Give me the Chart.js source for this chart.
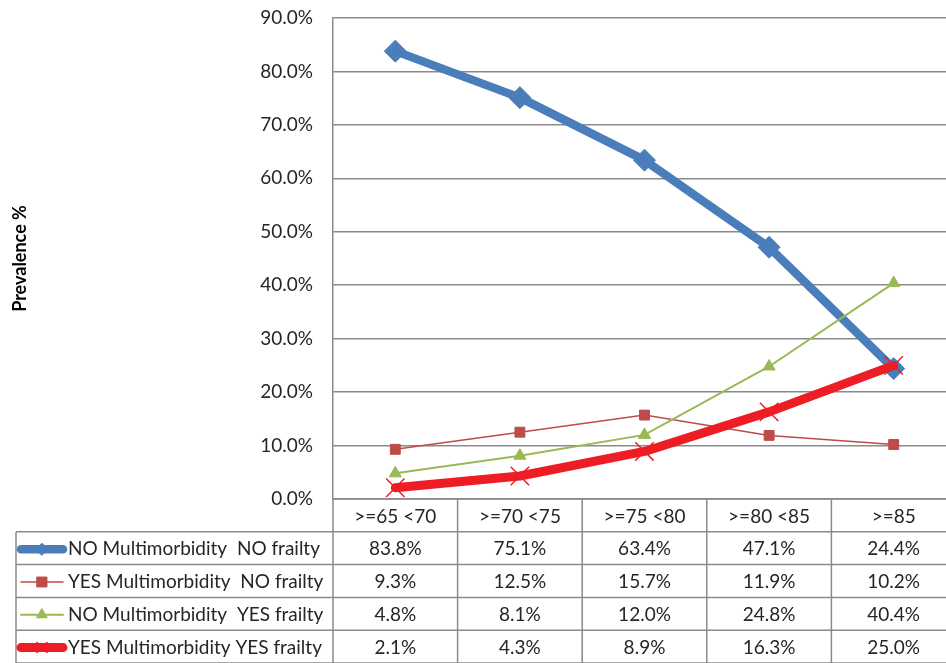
<!DOCTYPE html>
<html>
<head>
<meta charset="utf-8">
<script src="https://cdn.jsdelivr.net/npm/chart.js@4"></script>
<style>
  html, body { margin: 0; padding: 0; background: #fff; overflow: hidden; }
  #wrap { width: 956px; height: 663px; }
</style>
</head>
<body>
<div id="wrap"><canvas id="grafico" width="956" height="663"></canvas></div>
<script>
// categorias y series (en %)
const categorias = [">=65 <70", ">=70 <75", ">=75 <80", ">=80 <85", ">=85"];
const noMultiNoFrail = [83.8, 75.1, 63.4, 47.1, 24.4];
const yesMultiNoFrail = [9.3, 12.5, 15.7, 11.9, 10.2];
const noMultiYesFrail = [4.8, 8.1, 12.0, 24.8, 40.4];
const yesMultiYesFrail = [2.1, 4.3, 8.9, 16.3, 25.0];
const nombres = [
  "NO Multimorbidity  NO frailty",
  "YES Multimorbidity  NO frailty",
  "NO Multimorbidity  YES frailty",
  "YES Multimorbidity YES frailty"
];
const yTicks = [0, 10, 20, 30, 40, 50, 60, 70, 80, 90];

const fuente = "Lato, 'Open Sans', sans-serif";
const gris = "#8a8a8a";
const texto = "#262626";

// tabla de datos debajo del grafico
const tablaPlugin = {
  id: "tabla",
  afterDraw(chart) {
    const ctx = chart.ctx;
    const x = chart.scales.x;
    const area = chart.chartArea;
    const top = area.bottom;
    const filaH = 32.8;
    const izq = 16;
    const n = categorias.length;
    const ancho = (area.right - area.left) / n;
    ctx.save();
    ctx.strokeStyle = gris;
    ctx.lineWidth = 1.5;
    // lineas horizontales
    ctx.beginPath();
    ctx.moveTo(area.left, top); ctx.lineTo(area.right, top);
    for (let r = 1; r <= 5; r++) {
      const y = top + r * filaH;
      ctx.moveTo(izq, y); ctx.lineTo(area.right, y);
    }
    // verticales
    for (let c = 0; c <= n; c++) {
      const xx = area.left + c * ancho;
      ctx.moveTo(xx, top); ctx.lineTo(xx, top + 5 * filaH + 2);
    }
    ctx.moveTo(izq, top + filaH); ctx.lineTo(izq, top + 5 * filaH + 2);
    ctx.stroke();

    ctx.fillStyle = texto;
    ctx.font = "19px " + fuente;
    ctx.textAlign = "center";
    ctx.textBaseline = "middle";
    categorias.forEach((cat, i) => {
      ctx.fillText(cat, x.getPixelForValue(i), top + filaH / 2 + 1);
    });
    chart.data.datasets.forEach((ds, r) => {
      const yc = top + (r + 1.5) * filaH + 1;
      ds.data.forEach((v, i) => {
        ctx.fillText(v.toFixed(1) + "%", x.getPixelForValue(i), yc);
      });
      // muestra de leyenda
      ctx.save();
      ctx.strokeStyle = ds.borderColor;
      ctx.lineWidth = ds.borderWidth;
      ctx.lineCap = "round";
      ctx.beginPath();
      ctx.moveTo(21, yc); ctx.lineTo(63, yc);
      ctx.stroke();
      const estilo = {
        pointStyle: ds.pointStyle,
        rotation: 0,
        radius: ds.legendRadius,
        borderWidth: ds.pointBorderWidth
      };
      ctx.fillStyle = ds.pointBackgroundColor;
      ctx.strokeStyle = ds.pointBorderColor;
      ctx.lineWidth = ds.pointBorderWidth;
      Chart.helpers.drawPoint(ctx, estilo, 42, yc);
      ctx.restore();
      ctx.textAlign = "left";
      ctx.fillText(nombres[r], 68, yc);
      ctx.textAlign = "center";
    });
    ctx.restore();
  }
};

const contenedor = document.getElementById("grafico");
const grafico = new Chart(contenedor, {
  type: "line",
  data: {
    labels: categorias,
    datasets: [
      {
        label: nombres[0],
        data: noMultiNoFrail,
        borderColor: "#4a7ebb",
        backgroundColor: "#4a7ebb",
        borderWidth: 8.5,
        pointStyle: "rectRot",
        pointRadius: 11,
        legendRadius: 6,
        pointBackgroundColor: "#4a7ebb",
        pointBorderColor: "#4a7ebb",
        pointBorderWidth: 1,
        borderJoinStyle: "round",
        order: 4
      },
      {
        label: nombres[1],
        data: yesMultiNoFrail,
        borderColor: "#be4b48",
        backgroundColor: "#be4b48",
        borderWidth: 1.5,
        pointStyle: "rect",
        pointRadius: 7,
        legendRadius: 7,
        pointBackgroundColor: "#be4b48",
        pointBorderColor: "#be4b48",
        pointBorderWidth: 1,
        order: 3
      },
      {
        label: nombres[2],
        data: noMultiYesFrail,
        borderColor: "#98b954",
        backgroundColor: "#98b954",
        borderWidth: 2,
        pointStyle: "triangle",
        pointRadius: 7,
        legendRadius: 6,
        pointBackgroundColor: "#98b954",
        pointBorderColor: "#98b954",
        pointBorderWidth: 1,
        order: 2
      },
      {
        label: nombres[3],
        data: yesMultiYesFrail,
        borderColor: "#ee1c25",
        backgroundColor: "#ee1c25",
        borderWidth: 9,
        pointStyle: "crossRot",
        pointRadius: 13,
        legendRadius: 7,
        pointBackgroundColor: "#ee1c25",
        pointBorderColor: "#ee1c25",
        pointBorderWidth: 1.5,
        borderJoinStyle: "round",
        borderCapStyle: "round",
        order: 1
      }
    ]
  },
  options: {
    responsive: false,
    animation: false,
    layout: { autoPadding: false, padding: { top: 18, bottom: 164, right: 0, left: 0 } },
    plugins: {
      legend: { display: false },
      tooltip: { enabled: false }
    },
    elements: { line: { tension: 0 } },
    scales: {
      x: {
        display: false,
        offset: true
      },
      y: {
        min: 0,
        max: 90,
        afterBuildTicks: (scale) => { scale.ticks = yTicks.map(v => ({ value: v })); },
        afterFit: (scale) => {
          scale.width = 333;
          scale.paddingTop = 0;
          scale.paddingBottom = 0;
        },
        ticks: {
          padding: 20,
          color: texto,
          font: { family: fuente, size: 19 },
          callback: (v) => v.toFixed(1) + "%"
        },
        grid: {
          color: gris,
          lineWidth: 1.5,
          drawTicks: false
        },
        border: { color: gris, width: 1.5 },
        title: {
          display: true,
          text: "Prevalence %",
          color: "#000",
          font: { family: fuente, size: 18, weight: "bold" },
          padding: { top: 9, bottom: 0 }
        }
      }
    }
  },
  plugins: [tablaPlugin]
});
</script>
</body>
</html>
